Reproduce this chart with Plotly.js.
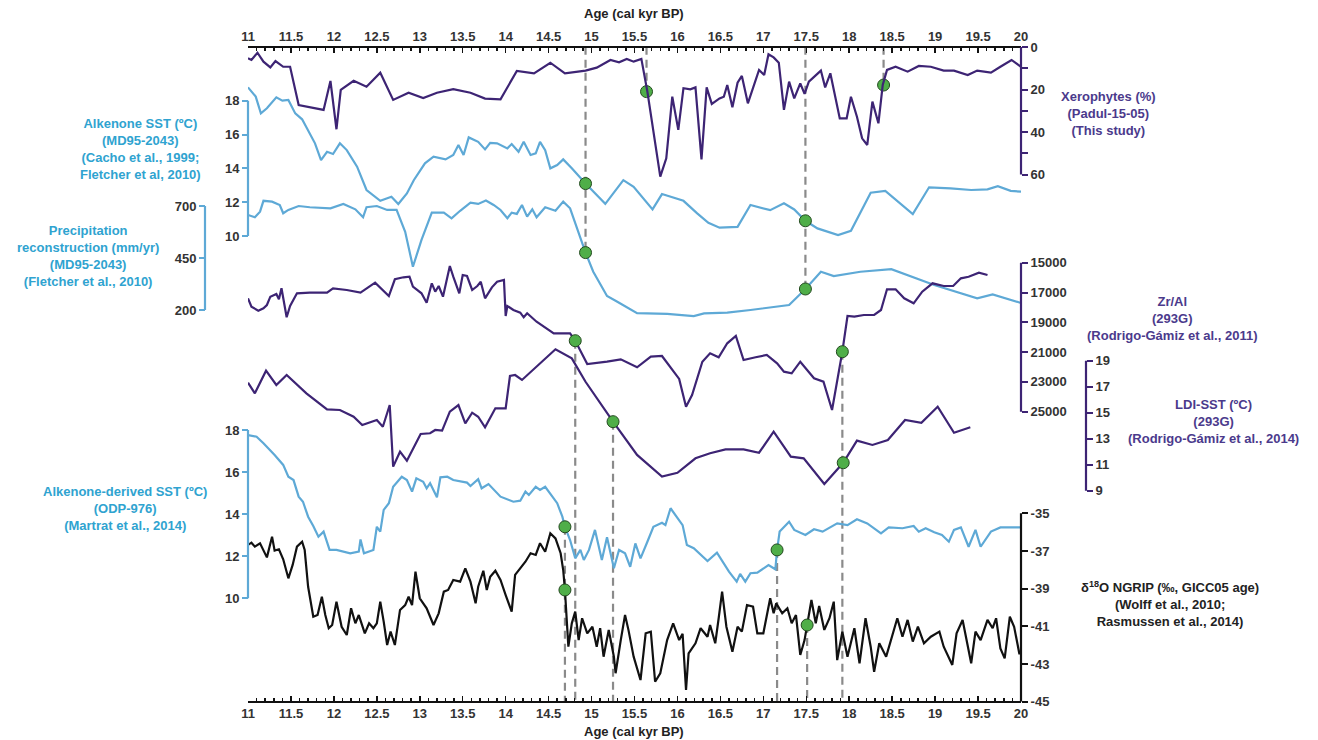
<!DOCTYPE html>
<html><head><meta charset="utf-8">
<script src="https://cdn.plot.ly/plotly-3.0.1.min.js"></script>
<style>body{margin:0;background:#fff}#c{width:1318px;height:740px}</style>
</head><body><div id="c"></div>
<script>
// ---------------- DATA ----------------
const ageXero = [11.0,11.04,11.11,11.18,11.26,11.32,11.41,11.49,11.59,11.88,11.96,12.03,12.08,12.23,12.38,12.54,12.69,12.87,13.04,13.2,13.39,13.59,13.76,13.94,14.13,14.33,14.52,14.69,14.93,15.06,15.22,15.32,15.41,15.49,15.58,15.65,15.8,15.87,15.94,16.01,16.07,16.15,16.21,16.28,16.34,16.4,16.49,16.54,16.58,16.64,16.7,16.75,16.82,16.89,16.95,17.01,17.06,17.12,17.18,17.24,17.3,17.36,17.43,17.48,17.53,17.67,17.72,17.78,17.89,17.97,18.02,18.09,18.15,18.21,18.27,18.34,18.39,18.44,18.54,18.68,18.81,18.95,19.1,19.22,19.38,19.49,19.65,19.76,19.89,20.0];
const xerophytes = [5.3,6.1,2.7,6.9,9.6,6.6,9.3,9.3,27.3,29.6,16,38.7,20.2,15.9,18.7,12.1,24.9,21.5,24,21.5,19.8,21.5,24.3,24.6,11.3,12.4,7.4,12.4,11.1,9.7,6.1,7.2,5.6,6.9,5.6,21,61,52.4,23.4,39,19.4,19.9,19,52.9,19,26.8,24.2,23.4,17.9,28.4,16.8,13.6,26.5,18.4,10.8,13.2,3.4,4.9,7.4,29.6,16.3,24.2,17.1,22.1,16.3,11.1,19,12.4,33.6,33.6,23.4,32.8,43,46.1,25.7,35.9,17.9,10.8,9.3,11.6,8.9,9.3,11.1,11.1,13.2,11.1,12.1,9.3,6.1,9.3];

const ageSstMD = [11.0,11.09,11.15,11.22,11.33,11.40,11.47,11.55,11.63,11.72,11.78,11.85,11.92,11.99,12.07,12.15,12.27,12.38,12.46,12.54,12.67,12.75,12.85,12.93,13.06,13.16,13.30,13.39,13.45,13.51,13.57,13.68,13.76,13.82,13.90,14.02,14.07,14.15,14.21,14.29,14.35,14.40,14.46,14.52,14.60,14.67,14.77,14.93,15.16,15.37,15.49,15.71,15.82,16.07,16.23,16.36,16.49,16.70,16.85,16.97,17.08,17.24,17.36,17.49,17.63,17.87,18.02,18.25,18.42,18.74,18.93,19.18,19.42,19.61,19.73,19.88,20.0];
const sstMD = [18.79,18.24,17.25,17.55,18.2,18.0,18.04,17.25,16.9,16.07,15.48,14.49,14.98,14.85,15.48,15.08,14.1,12.72,12.42,12.08,12.32,11.89,12.52,13.3,14.3,14.69,14.53,14.79,15.38,14.79,15.83,15.57,15.12,15.51,15.48,15.18,15.44,14.98,15.57,14.79,14.89,15.57,15.08,14.0,14.2,14.53,14.0,13.1,11.9,13.3,12.91,11.57,12.48,12.08,11.34,10.78,10.49,10.54,11.83,11.69,11.53,11.93,11.57,10.9,10.45,10.05,10.31,12.56,12.67,11.3,12.88,12.82,12.72,12.76,12.95,12.67,12.62];

const agePrecip = [11.0,11.08,11.14,11.18,11.28,11.37,11.41,11.47,11.59,11.72,11.96,12.11,12.25,12.34,12.38,12.50,12.62,12.73,12.83,12.92,13.02,13.14,13.28,13.37,13.47,13.59,13.68,13.77,13.86,13.94,14.02,14.07,14.13,14.19,14.25,14.31,14.36,14.46,14.58,14.67,14.75,14.85,14.93,15.02,15.18,15.30,15.53,15.88,16.19,16.31,16.58,16.85,17.08,17.30,17.49,17.67,17.82,18.13,18.49,18.99,19.49,19.67,19.99];
const precip = [657,646,673,725,721,705,665,681,700,694,689,710,684,646,694,700,681,681,576,408,537,668,668,641,677,716,710,726,705,681,641,668,662,705,649,684,646,694,677,721,689,569,476,384,267,240,185,181,171,184,187,200,213,224,301,384,363,384,396,320,256,275,235];

const ageZr = [11.0,11.04,11.12,11.18,11.22,11.26,11.33,11.36,11.39,11.45,11.49,11.57,11.72,11.92,11.99,12.15,12.31,12.48,12.64,12.71,12.81,12.88,12.92,13.02,13.08,13.14,13.18,13.22,13.27,13.35,13.39,13.46,13.50,13.55,13.61,13.67,13.71,13.76,13.84,13.90,13.98,14.00,14.02,14.09,14.17,14.21,14.25,14.36,14.56,14.75,14.81,14.95,15.18,15.34,15.53,15.69,15.82,16.02,16.10,16.17,16.29,16.38,16.48,16.58,16.68,16.77,16.91,17.04,17.16,17.24,17.33,17.43,17.59,17.70,17.80,17.92,17.98,18.06,18.17,18.29,18.37,18.44,18.54,18.64,18.75,18.85,18.97,19.10,19.21,19.30,19.39,19.51,19.61];
const zrAl = [17389,17953,18221,18060,17839,17282,17101,17456,16718,18664,17906,17054,17013,17013,16718,16832,17013,16342,17235,16114,15980,15940,16611,17054,17685,16383,16946,16564,17282,15221,15940,17054,15826,15893,16832,16564,16275,17389,16651,16275,16161,18577,17906,18174,18356,18664,18396,18960,19738,19738,20235,21799,21644,21483,22020,21309,21262,22800,24664,23879,21644,21081,21349,20409,19919,21530,21349,21195,21752,22315,22423,21644,22758,22987,24886,20973,18577,18624,18510,18510,18174,16785,16785,17389,17725,16946,16383,16564,16564,16047,15940,15671,15826];

const ageLdi = [11.0,11.08,11.21,11.33,11.45,11.68,11.92,12.07,12.23,12.33,12.50,12.57,12.65,12.69,12.77,12.85,13.01,13.12,13.18,13.26,13.35,13.45,13.53,13.61,13.68,13.76,13.88,14.0,14.05,14.11,14.19,14.58,14.77,14.93,15.25,15.53,15.82,16.0,16.21,16.38,16.56,16.77,16.95,17.12,17.32,17.47,17.71,17.93,18.09,18.27,18.45,18.65,18.84,19.03,19.22,19.41];
const ldiSst = [17.31,16.49,18.23,17.13,17.9,16.49,15.26,15.21,14.69,14.05,14.44,13.92,15.59,10.85,12.0,11.31,13.36,13.42,13.67,13.62,15.08,15.59,14.18,15.0,14.69,13.88,15.34,15.34,17.82,17.9,17.52,19.88,19.18,17.38,14.31,11.75,10.08,10.38,11.49,11.88,12.18,12.18,11.92,13.54,11.62,11.49,9.52,11.15,12.85,12.52,12.9,14.44,14.23,15.46,13.46,13.88];

const ageOdp = [11.0,11.10,11.18,11.26,11.31,11.41,11.47,11.53,11.59,11.64,11.70,11.76,11.82,11.88,11.95,12.03,12.13,12.19,12.29,12.31,12.35,12.46,12.50,12.54,12.58,12.64,12.69,12.79,12.85,12.91,12.96,13.04,13.08,13.12,13.20,13.24,13.32,13.39,13.55,13.59,13.68,13.72,13.80,13.90,13.94,14.09,14.17,14.23,14.27,14.35,14.40,14.46,14.52,14.60,14.66,14.69,14.75,14.81,14.87,14.91,14.97,15.04,15.12,15.18,15.26,15.32,15.39,15.45,15.51,15.57,15.65,15.72,15.82,15.86,15.92,16.06,16.11,16.19,16.35,16.46,16.60,16.69,16.73,16.79,16.85,16.93,17.06,17.14,17.16,17.19,17.30,17.36,17.49,17.59,17.69,17.86,17.98,18.09,18.21,18.37,18.46,18.62,18.75,18.81,18.89,18.99,19.08,19.16,19.22,19.30,19.39,19.47,19.53,19.65,19.76,20.0];
const sstOdp = [17.76,17.68,17.37,17.05,16.81,16.34,15.78,15.62,14.83,14.59,13.88,13.44,12.93,13.17,12.30,12.30,12.22,12.14,12.22,12.80,12.14,12.30,13.40,13.17,14.2,14.52,15.30,15.78,15.62,15.07,15.70,15.54,15.23,15.47,14.80,15.75,15.78,15.62,15.50,15.34,15.66,15.23,15.43,15.02,14.83,14.59,14.64,15.07,14.91,15.30,15.15,15.30,14.99,14.52,13.88,13.40,12.77,11.90,12.30,11.82,12.30,13.25,11.82,12.90,11.43,12.30,12.14,11.50,12.61,11.90,12.69,13.40,13.59,13.48,14.28,13.48,12.53,12.38,11.77,12.17,11.27,10.79,11.16,10.79,11.19,11.22,11.58,11.38,12.30,13.17,13.64,13.25,13.01,13.28,13.17,13.56,13.48,13.76,13.56,13.09,13.37,13.33,13.44,13.17,13.33,13.14,13.01,12.69,13.25,13.37,12.45,13.25,12.45,13.17,13.37,13.37];

const ageNgrip = [11.0,11.04,11.08,11.14,11.22,11.28,11.31,11.36,11.41,11.47,11.52,11.57,11.63,11.66,11.70,11.76,11.81,11.86,11.90,11.94,11.98,12.03,12.09,12.15,12.20,12.25,12.29,12.36,12.41,12.46,12.50,12.54,12.58,12.62,12.66,12.71,12.77,12.83,12.87,12.91,12.95,13.0,13.08,13.16,13.22,13.28,13.33,13.39,13.47,13.53,13.59,13.65,13.68,13.74,13.78,13.82,13.88,13.94,14.0,14.07,14.11,14.17,14.23,14.29,14.35,14.40,14.46,14.52,14.58,14.64,14.67,14.69,14.71,14.73,14.77,14.81,14.85,14.89,14.95,15.01,15.06,15.10,15.14,15.20,15.26,15.28,15.34,15.39,15.43,15.49,15.57,15.63,15.69,15.74,15.80,15.88,15.95,16.02,16.06,16.10,16.13,16.21,16.27,16.35,16.38,16.44,16.48,16.52,16.57,16.64,16.70,16.75,16.81,16.88,16.93,17.0,17.08,17.12,17.15,17.22,17.28,17.33,17.38,17.43,17.48,17.51,17.56,17.61,17.65,17.71,17.77,17.82,17.86,17.92,17.98,18.06,18.12,18.19,18.25,18.29,18.35,18.43,18.51,18.56,18.62,18.68,18.74,18.80,18.87,18.95,19.05,19.10,19.20,19.25,19.32,19.37,19.42,19.47,19.53,19.61,19.67,19.71,19.76,19.81,19.87,19.92,19.98,20.0];
const ngrip = [-36.68,-36.56,-36.77,-36.59,-37.34,-36.24,-36.98,-36.91,-37.44,-38.45,-37.74,-36.77,-36.51,-36.95,-38.9,-40.49,-40.40,-39.43,-40.40,-41.10,-40.93,-39.69,-41.02,-41.46,-40.04,-40.84,-40.40,-41.37,-40.84,-41.10,-40.84,-39.69,-40.75,-41.99,-41.28,-41.99,-40.13,-39.87,-39.43,-39.87,-38.1,-39.51,-40.04,-40.93,-40.31,-39.16,-39.07,-38.54,-38.63,-37.92,-38.63,-39.78,-38.9,-38.05,-39.07,-38.37,-38.05,-38.54,-39.34,-40.22,-38.27,-37.92,-37.57,-37.12,-37.21,-36.59,-37.04,-36.06,-36.33,-37.12,-38.01,-39.07,-40.49,-42.08,-40.84,-40.22,-41.73,-40.57,-41.37,-41.02,-42.08,-41.10,-42.61,-41.19,-42.61,-43.49,-41.73,-40.40,-41.2,-42.61,-43.85,-41.37,-41.28,-43.94,-43.49,-41.73,-40.84,-41.73,-41.4,-44.38,-42.43,-41.90,-41.10,-41.55,-40.93,-41.90,-40.57,-39.16,-41.02,-42.35,-41.02,-41.28,-39.87,-39.96,-41.37,-41.37,-39.51,-40.31,-39.78,-40.31,-40.04,-40.84,-40.40,-42.52,-41.73,-40.93,-39.6,-40.84,-39.92,-41.19,-40.57,-39.69,-42.79,-41.28,-42.61,-41.10,-42.96,-40.57,-42.08,-43.41,-41.90,-42.61,-41.37,-40.57,-41.55,-40.66,-41.81,-41.02,-41.90,-41.55,-41.28,-42.08,-43.05,-41.37,-40.66,-41.90,-42.96,-41.28,-41.73,-40.66,-41.10,-40.57,-42.17,-42.70,-40.49,-41.02,-42.43,-42.43];

// event markers (green dots), per record
const evXeroAge = [15.64, 18.40], evXeroVal = [21, 17.9];
const evSstMDAge = [14.93, 17.49], evSstMDVal = [13.1, 10.9];
const evPrecipAge = [14.93, 17.49], evPrecipVal = [476, 301];
const evZrAge = [14.81, 17.92], evZrVal = [20235, 20973];
const evLdiAge = [15.25, 17.93], evLdiVal = [14.31, 11.15];
const evOdpAge = [14.69, 17.16], evOdpVal = [13.40, 12.30];
const evNgripAge = [14.69, 17.51], evNgripVal = [-39.07, -40.93];

const xTickVals = [11,11.5,12,12.5,13,13.5,14,14.5,15,15.5,16,16.5,17,17.5,18,18.5,19,19.5,20];
const xTickText = ['11','11.5','12','12.5','13','13.5','14','14.5','15','15.5','16','16.5','17','17.5','18','18.5','19','19.5','20'];

// ---------------- LAYOUT HELPERS ----------------
const W = 1318, H = 740;
const PURPLE = '#3d2474', PURPLE_T = '#4b3a8c', BLUE = '#5ea9d6', BLUE_T = '#2fa3d0', BLACK = '#111', GREEN = '#4fae48';
const FONT = 'Liberation Sans, Arial, sans-serif';
const tickFont = {family: FONT, size: 13, color: '#333', weight: 'bold'};
const xLeftPx = 248, xRightPx = 1021;
const px2x = p => p / W, px2y = p => 1 - p / H;

function fitAxis(vA, pA, vB, pB, rb, rt) {
  const s = (pB - pA) / (vB - vA);
  const pb = pA + (rb - vA) * s, pt = pA + (rt - vA) * s;
  return {domain: [px2y(pb), px2y(pt)], range: [rb, rt]};
}
function yAx(fit, posPx, side, color, tickvals, minorVals) {
  const ax = Object.assign({}, fit, {
    anchor: 'free', position: px2x(posPx), side: side,
    showline: false, showgrid: false, zeroline: false,
    tickmode: 'array', tickvals: tickvals, ticktext: tickvals.map(String),
    ticks: 'outside', ticklen: 6, tickwidth: 2, tickcolor: color,
    tickfont: tickFont, fixedrange: true
  });
  if (minorVals) ax.minor = {tickmode: 'array', tickvals: minorVals, ticks: 'outside', ticklen: 6, tickwidth: 2, tickcolor: color, showgrid: false};
  return ax;
}
function toPaper(ax, v) {
  return ax.domain[0] + (v - ax.range[0]) / (ax.range[1] - ax.range[0]) * (ax.domain[1] - ax.domain[0]);
}

const axXero = yAx(fitAxis(0, 47, 60, 174.5, 63, 0), xRightPx, 'right', PURPLE, [0,20,40,60], [10,30,50]);
const axSstMD = yAx(fitAxis(10, 236, 18, 100.7, 9.3, 19.3), xLeftPx, 'left', BLUE, [10,12,14,16,18]);
const axPrecip = yAx(fitAxis(200, 310, 700, 206, 140, 760), 205, 'left', BLUE, [200,450,700]);
const axZr = yAx(fitAxis(15000, 262.7, 25000, 411.7, 25300, 14800), xRightPx, 'right', PURPLE, [15000,17000,19000,21000,23000,25000]);
const axLdi = yAx(fitAxis(9, 490.7, 19, 360.7, 8.8, 20.5), 1086, 'right', PURPLE, [9,11,13,15,17,19]);
const axOdp = yAx(fitAxis(10, 598.3, 18, 430, 9.8, 18.4), xLeftPx, 'left', BLUE, [10,12,14,16,18]);
const axNgrip = yAx(fitAxis(-35, 513.3, -45, 701.7, -45, -34.8), xRightPx, 'right', BLACK, [-45,-43,-41,-39,-37,-35]);

const botPx = 701.7, topPx = 46.7;
const xBase = {
  range: [11, 20], domain: [px2x(xLeftPx), px2x(xRightPx)], anchor: 'free',
  tickmode: 'array', tickvals: xTickVals, ticktext: xTickText,
  showline: true, linecolor: '#111', linewidth: 2, showgrid: false, zeroline: false,
  ticks: 'inside', ticklen: 5, tickwidth: 1.5, tickcolor: '#111',
  minor: {dtick: 0.1, tick0: 11, ticks: 'inside', ticklen: 3, tickwidth: 1.5, tickcolor: '#111'},
  tickfont: tickFont, fixedrange: true
};
const xaxis = Object.assign({}, xBase, {position: px2y(botPx), side: 'bottom'});
const xaxis2 = Object.assign({}, xBase, {position: px2y(topPx), side: 'top', overlaying: 'x'});

// ---------------- TRACES ----------------
function line(x, y, yaxis, color, xa) {
  return {x: x, y: y, xaxis: xa || 'x', yaxis: yaxis, type: 'scatter', mode: 'lines',
          line: {color: color, width: 2.2}, hoverinfo: 'skip', showlegend: false};
}
function dots(x, y, yaxis) {
  return {x: x, y: y, xaxis: 'x', yaxis: yaxis, type: 'scatter', mode: 'markers', cliponaxis: false,
          marker: {size: 12, color: GREEN, line: {color: '#234a1f', width: 1}}, hoverinfo: 'skip', showlegend: false};
}
const traces = [
  line(ageXero, xerophytes, 'y', PURPLE, 'x2'),
  line(ageSstMD, sstMD, 'y2', BLUE),
  line(agePrecip, precip, 'y3', BLUE),
  line(ageZr, zrAl, 'y4', PURPLE),
  line(ageLdi, ldiSst, 'y5', PURPLE),
  line(ageOdp, sstOdp, 'y6', BLUE),
  line(ageNgrip, ngrip, 'y7', BLACK),
];

// ---------------- SHAPES (axis lines + dashed event lines) ----------------
const shapes = [];
function axisLine(yref, posPx, v0, v1, color) {
  shapes.push({type: 'line', xref: 'paper', yref: yref, x0: px2x(posPx), x1: px2x(posPx), y0: v0, y1: v1,
               line: {color: color, width: 2.2}, layer: 'above'});
}
axisLine('y', xRightPx, 0, 60, PURPLE);
axisLine('y2', xLeftPx, 10, 18, BLUE);
axisLine('y3', 205, 200, 700, BLUE);
axisLine('y4', xRightPx, 15000, 25000, PURPLE);
axisLine('y5', 1086, 9, 19, PURPLE);
axisLine('y6', xLeftPx, 10, 18, BLUE);
axisLine('y7', xRightPx, -45, -35, BLACK);

const topP = px2y(topPx), botP = px2y(botPx);
function dashed(x, p0, p1) {
  shapes.push({type: 'line', xref: 'x', yref: 'paper', x0: x, x1: x, y0: p0, y1: p1,
               line: {color: '#8a8a8a', width: 2.2, dash: '8px,5px'}, layer: 'below'});
}
dashed(evPrecipAge[0], topP, toPaper(axPrecip, evPrecipVal[0]));
dashed(evXeroAge[0], topP, toPaper(axXero, evXeroVal[0]));
dashed(evPrecipAge[1], topP, toPaper(axPrecip, evPrecipVal[1]));
dashed(evXeroAge[1], topP, toPaper(axXero, evXeroVal[1]));
dashed(evZrAge[0], toPaper(axZr, evZrVal[0]), botP);
dashed(evOdpAge[0], toPaper(axOdp, evOdpVal[0]), botP);
dashed(evLdiAge[0], toPaper(axLdi, evLdiVal[0]), botP);
dashed(evZrAge[1], toPaper(axZr, evZrVal[1]), botP);
dashed(evOdpAge[1], toPaper(axOdp, evOdpVal[1]), botP);
dashed(evNgripAge[1], toPaper(axNgrip, evNgripVal[1]), botP);

traces.push(
  dots(evXeroAge, evXeroVal, 'y'),
  dots(evSstMDAge, evSstMDVal, 'y2'),
  dots(evPrecipAge, evPrecipVal, 'y3'),
  dots(evZrAge, evZrVal, 'y4'),
  dots(evLdiAge, evLdiVal, 'y5'),
  dots(evOdpAge, evOdpVal, 'y6'),
  dots(evNgripAge, evNgripVal, 'y7')
);

// ---------------- ANNOTATIONS ----------------
const ann = [];
function label(text, cx, cy, color) {
  ann.push({text: text, x: px2x(cx), y: px2y(cy), xref: 'paper', yref: 'paper', xanchor: 'center', yanchor: 'middle',
            showarrow: false, align: 'center', font: {family: FONT, size: 13, color: color, weight: 'bold'}});
}
label('Age (cal kyr BP)', 634, 13, '#222');
label('Age (cal kyr BP)', 634, 731, '#222');
label('Xerophytes (%)<br>(Padul-15-05)<br>(This study)', 1108, 113, PURPLE_T);
label('Alkenone SST (ºC)<br>(MD95-2043)<br>(Cacho et al., 1999;<br>Fletcher et al, 2010)', 140, 149, BLUE_T);
label('Precipitation<br>reconstruction (mm/yr)<br>(MD95-2043)<br>(Fletcher et al., 2010)', 88, 256, BLUE_T);
label('Zr/Al<br>(293G)<br>(Rodrigo-Gámiz et al., 2011)', 1172, 319, PURPLE_T);
label('LDI-SST (ºC)<br>(293G)<br>(Rodrigo-Gámiz et al., 2014)', 1213, 422, PURPLE_T);
label('Alkenone-derived SST (ºC)<br>(ODP-976)<br>(Martrat et al., 2014)', 125, 508, BLUE_T);
label('δ<sup>18</sup>O NGRIP (‰, GICC05 age)<br>(Wolff et al., 2010;<br>Rasmussen et al., 2014)', 1170, 604, '#222');

const layout = {
  width: W, height: H, margin: {l: 0, r: 0, t: 0, b: 0},
  paper_bgcolor: '#fff', plot_bgcolor: 'rgba(0,0,0,0)', showlegend: false,
  font: {family: FONT},
  xaxis: xaxis, xaxis2: xaxis2,
  yaxis: axXero, yaxis2: axSstMD, yaxis3: axPrecip, yaxis4: axZr, yaxis5: axLdi, yaxis6: axOdp, yaxis7: axNgrip,
  shapes: shapes, annotations: ann
};
Plotly.newPlot('c', traces, layout, {staticPlot: true, displayModeBar: false});
</script></body></html>
